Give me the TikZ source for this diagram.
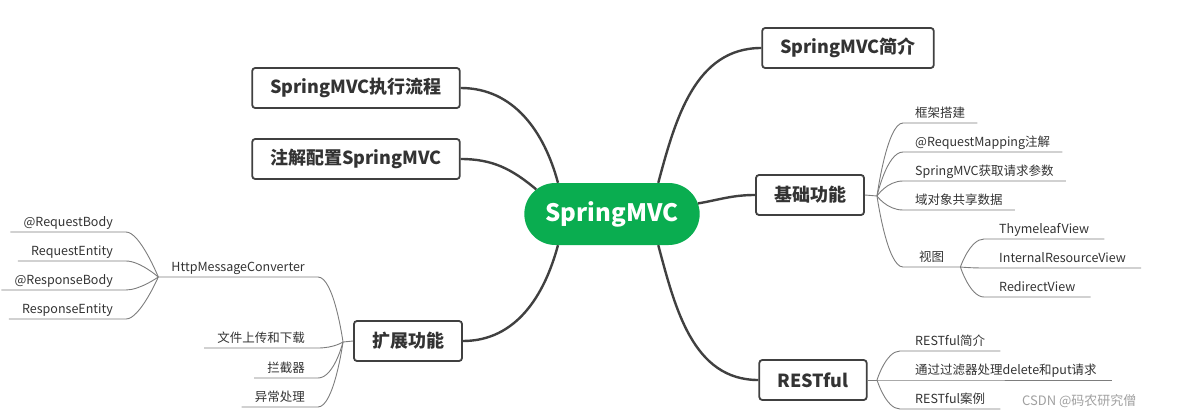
\documentclass[tikz,border=0pt]{standalone}
\usepackage{fontspec}
\setmainfont{Noto Sans CJK SC}
\usepackage{tikz}
\usetikzlibrary{shapes.misc}
\definecolor{springgreen}{RGB}{10,173,80}
\definecolor{inkgray}{RGB}{51,51,51}
\definecolor{boxline}{RGB}{64,64,64}
\definecolor{twiggray}{RGB}{125,125,125}
\definecolor{markgray}{RGB}{160,160,160}

\begin{document}
\begin{tikzpicture}[x=1pt, y=-1pt,
  hubnode/.style={rounded rectangle, fill=springgreen, text=white, font=\bfseries\fontsize{24}{28}\selectfont, minimum width=182pt, minimum height=62pt},
  topic/.style={rectangle, draw=boxline, line width=1.8pt, rounded corners=3pt, fill=white, text=inkgray, font=\bfseries\fontsize{18}{21}\selectfont, inner xsep=18pt, minimum height=40pt},
  leaf/.style={inner xsep=12pt, inner ysep=2pt, text height=10pt, text depth=3pt, text=inkgray, font=\fontsize{12.5}{14}\selectfont},
  trunk/.style={draw=boxline, line width=2.4pt},
  twig/.style={draw=twiggray, line width=0.9pt}]
\useasboundingbox (0,0) rectangle (1185,412);

% Central node
\node[hubnode] (hub) at (612,214) {SpringMVC};

% Main topics
\node[topic] (flow) at (356,88) {SpringMVC执行流程};
\node[topic] (anno) at (356,159) {注解配置SpringMVC};
\node[topic] (ext) at (408,341) {扩展功能};
\node[topic] (intro) at (848,48) {SpringMVC简介};
\node[topic] (basic) at (810,195) {基础功能};
\node[topic] (rest) at (813,380) {RESTful};

% Main connections
\draw[trunk] (flow.east) to[out=0, in=105] (hub.150);
\draw[trunk] (anno.east) to[out=0, in=140] (hub.162);
\draw[trunk] (ext.east) to[out=0, in=-105] (hub.210);
\draw[trunk] (intro.west) to[out=180, in=75] (hub.34);
\draw[trunk] (basic.west) to[out=180, in=10] (hub.7);
\draw[trunk] (rest.west) to[out=180, in=-75] (hub.326);

% Basic functions
\coordinate (bb) at (877,196);
\node[leaf, anchor=south west] (f1) at (903,123) {框架搭建};
\node[leaf, anchor=south west] (f2) at (903,152) {@RequestMapping注解};
\node[leaf, anchor=south west] (f3) at (903,181) {SpringMVC获取请求参数};
\node[leaf, anchor=south west] (f4) at (903,210) {域对象共享数据};
\node[leaf, anchor=south west, minimum width=57pt] (f5) at (903,267) {视图};
\draw[twig] (basic.east) -- (bb);
\draw[twig] (bb) .. controls (bb) and ([xshift=-16]f1.south west) .. (f1.south west) -- (f1.south east);
\draw[twig] (bb) .. controls (bb) and ([xshift=-16]f2.south west) .. (f2.south west) -- (f2.south east);
\draw[twig] (bb) .. controls (bb) and ([xshift=-16]f3.south west) .. (f3.south west) -- (f3.south east);
\draw[twig] (bb) .. controls (bb) and ([xshift=-16]f4.south west) .. (f4.south west) -- (f4.south east);
\draw[twig] (bb) .. controls (bb) and ([xshift=-16]f5.south west) .. (f5.south west) -- (f5.south east);

% Views
\coordinate (vb) at (f5.south east);
\node[leaf, anchor=south west, inner xsep=15pt] (v1) at (984,239) {ThymeleafView};
\node[leaf, anchor=south west, inner xsep=15pt] (v2) at (984,268) {InternalResourceView};
\node[leaf, anchor=south west, inner xsep=15pt] (v3) at (984,297) {RedirectView};
\draw[twig] (vb) .. controls (vb) and ([xshift=-14]v1.south west) .. (v1.south west) -- (v1.south east);
\draw[twig] (vb) .. controls (vb) and ([xshift=-14]v2.south west) .. (v2.south west) -- (v2.south east);
\draw[twig] (vb) .. controls (vb) and ([xshift=-14]v3.south west) .. (v3.south west) -- (v3.south east);

% RESTful
\coordinate (rb) at (877,380);
\node[leaf, anchor=south west, inner xsep=15pt] (r1) at (900,351) {RESTful简介};
\node[leaf, anchor=south west, inner xsep=15pt] (r2) at (900,380) {通过过滤器处理delete和put请求};
\node[leaf, anchor=south west, inner xsep=15pt] (r3) at (900,409) {RESTful案例};
\draw[twig] (rest.east) -- (rb);
\draw[twig] (rb) .. controls (rb) and ([xshift=-14]r1.south west) .. (r1.south west) -- (r1.south east);
\draw[twig] (rb) -- (r2.south west) -- (r2.south east);
\draw[twig] (rb) .. controls (rb) and ([xshift=-14]r3.south west) .. (r3.south west) -- (r3.south east);

% Extended functions
\coordinate (eb) at (343,342);
\node[leaf, anchor=south east, inner xsep=13pt] (e1) at (318,277) {HttpMessageConverter};
\node[leaf, anchor=south east, inner xsep=13pt] (e2) at (318,348) {文件上传和下载};
\node[leaf, anchor=south east, inner xsep=13pt] (e3) at (318,378) {拦截器};
\node[leaf, anchor=south east, inner xsep=13pt] (e4) at (318,407) {异常处理};
\draw[twig] (ext.west) -- (eb);
\draw[twig] (eb) .. controls (eb) and ([xshift=16]e1.south east) .. (e1.south east) -- (e1.south west);
\draw[twig] (eb) .. controls (eb) and ([xshift=16]e2.south east) .. (e2.south east) -- (e2.south west);
\draw[twig] (eb) .. controls (eb) and ([xshift=16]e3.south east) .. (e3.south east) -- (e3.south west);
\draw[twig] (eb) .. controls (eb) and ([xshift=16]e4.south east) .. (e4.south east) -- (e4.south west);

% Message converters
\coordinate (hb) at (e1.south west);
\node[leaf, anchor=south east, inner xsep=13pt] (h1) at (126,232) {@RequestBody};
\node[leaf, anchor=south east, inner xsep=13pt] (h2) at (126,261) {RequestEntity};
\node[leaf, anchor=south east, inner xsep=13pt] (h3) at (126,290) {@ResponseBody};
\node[leaf, anchor=south east, inner xsep=13pt] (h4) at (126,319) {ResponseEntity};
\draw[twig] (hb) .. controls (hb) and ([xshift=14]h1.south east) .. (h1.south east) -- (h1.south west);
\draw[twig] (hb) .. controls (hb) and ([xshift=14]h2.south east) .. (h2.south east) -- (h2.south west);
\draw[twig] (hb) .. controls (hb) and ([xshift=14]h3.south east) .. (h3.south east) -- (h3.south west);
\draw[twig] (hb) .. controls (hb) and ([xshift=14]h4.south east) .. (h4.south east) -- (h4.south west);

% Watermark
\node[anchor=base west, inner sep=0pt, text=markgray, font=\fontsize{13}{15}\selectfont] (mark) at (1022,405) {CSDN @码农研究僧};
\end{tikzpicture}
\end{document}
